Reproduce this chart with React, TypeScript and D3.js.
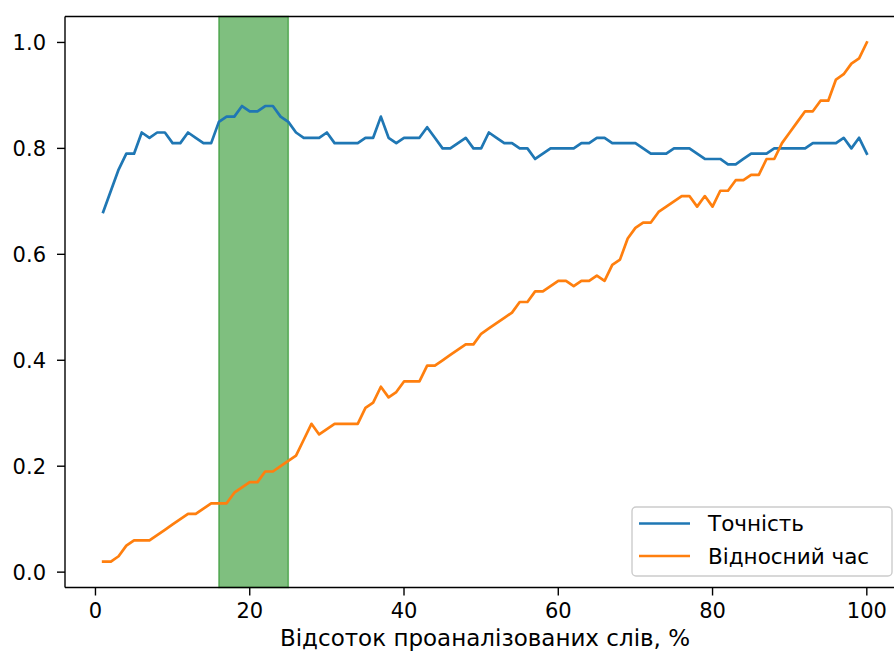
import React from 'react';
import * as d3 from 'd3';

const PERCENTS = d3.range(1, 101);

const ACCURACY = [
  0.68, 0.72, 0.76, 0.79, 0.79, 0.83, 0.82, 0.83, 0.83, 0.81,
  0.81, 0.83, 0.82, 0.81, 0.81, 0.85, 0.86, 0.86, 0.88, 0.87,
  0.87, 0.88, 0.88, 0.86, 0.85, 0.83, 0.82, 0.82, 0.82, 0.83,
  0.81, 0.81, 0.81, 0.81, 0.82, 0.82, 0.86, 0.82, 0.81, 0.82,
  0.82, 0.82, 0.84, 0.82, 0.80, 0.80, 0.81, 0.82, 0.80, 0.80,
  0.83, 0.82, 0.81, 0.81, 0.80, 0.80, 0.78, 0.79, 0.80, 0.80,
  0.80, 0.80, 0.81, 0.81, 0.82, 0.82, 0.81, 0.81, 0.81, 0.81,
  0.80, 0.79, 0.79, 0.79, 0.80, 0.80, 0.80, 0.79, 0.78, 0.78,
  0.78, 0.77, 0.77, 0.78, 0.79, 0.79, 0.79, 0.80, 0.80, 0.80,
  0.80, 0.80, 0.81, 0.81, 0.81, 0.81, 0.82, 0.80, 0.82, 0.79,
];

const REL_TIME = [
  0.02, 0.02, 0.03, 0.05, 0.06, 0.06, 0.06, 0.07, 0.08, 0.09,
  0.10, 0.11, 0.11, 0.12, 0.13, 0.13, 0.13, 0.15, 0.16, 0.17,
  0.17, 0.19, 0.19, 0.20, 0.21, 0.22, 0.25, 0.28, 0.26, 0.27,
  0.28, 0.28, 0.28, 0.28, 0.31, 0.32, 0.35, 0.33, 0.34, 0.36,
  0.36, 0.36, 0.39, 0.39, 0.40, 0.41, 0.42, 0.43, 0.43, 0.45,
  0.46, 0.47, 0.48, 0.49, 0.51, 0.51, 0.53, 0.53, 0.54, 0.55,
  0.55, 0.54, 0.55, 0.55, 0.56, 0.55, 0.58, 0.59, 0.63, 0.65,
  0.66, 0.66, 0.68, 0.69, 0.70, 0.71, 0.71, 0.69, 0.71, 0.69,
  0.72, 0.72, 0.74, 0.74, 0.75, 0.75, 0.78, 0.78, 0.81, 0.83,
  0.85, 0.87, 0.87, 0.89, 0.89, 0.93, 0.94, 0.96, 0.97, 1.00,
];

const BAND = [16, 25];
const X_TICKS = [0, 20, 40, 60, 80, 100];
const Y_TICKS = [0, 0.2, 0.4, 0.6, 0.8, 1.0];

const SERIES = [
  { name: 'Точність', values: ACCURACY, color: '#1f77b4' },
  { name: 'Відносний час', values: REL_TIME, color: '#ff7f0e' },
];

const X_LABEL = 'Відсоток проаналізованих слів, %';

const WIDTH = 894;
const HEIGHT = 652;
const FONT = 'DejaVu Sans, sans-serif';

export default function App() {
  // axes box (right spine falls off the canvas, like the original crop)
  const left = 65, right = 905, top = 16.5, bottom = 587.5;

  const x = d3.scaleLinear().domain([-3.95, 104.95]).range([left, right]);
  const y = d3.scaleLinear().domain([-0.029, 1.049]).range([bottom, top]);

  const line = d3.line<number>()
    .x((_, i) => x(PERCENTS[i]))
    .y((d) => y(d));

  const tickLen = 8;
  const tickFs = 21;

  return (
    <>
      <style>{'body{margin:0}'}</style>
      <svg width={WIDTH} height={HEIGHT} style={{ display: 'block', background: '#fff' }}>
        {/* highlighted band */}
        <rect
          x={x(BAND[0])}
          y={top}
          width={x(BAND[1]) - x(BAND[0])}
          height={bottom - top}
          fill="#008000"
          fillOpacity={0.5}
          stroke="#008000"
          strokeOpacity={0.5}
          strokeWidth={1.5}
        />

        {SERIES.map((s) => (
          <path
            key={s.name}
            d={line(s.values) || ''}
            fill="none"
            stroke={s.color}
            strokeWidth={2.7}
            strokeLinejoin="round"
            strokeLinecap="square"
          />
        ))}

        {/* spines */}
        <g stroke="#000" strokeWidth={1.4} fill="none">
          <line x1={left} x2={left} y1={top} y2={bottom} />
          <line x1={left} x2={right} y1={bottom} y2={bottom} />
          <line x1={left} x2={right} y1={top} y2={top} />
          <line x1={right} x2={right} y1={top} y2={bottom} />
        </g>

        {/* x axis */}
        {X_TICKS.map((t) => (
          <g key={t} transform={`translate(${x(t)},${bottom})`}>
            <line y2={tickLen} stroke="#000" strokeWidth={1.4} />
            <text y={30.5} textAnchor="middle" fontFamily={FONT} fontSize={tickFs} fill="#000">
              {t}
            </text>
          </g>
        ))}
        <text x={(left + right) / 2} y={645.5} textAnchor="middle" fontFamily={FONT} fontSize={23} fill="#000">
          {X_LABEL}
        </text>

        {/* y axis */}
        {Y_TICKS.map((t) => (
          <g key={t} transform={`translate(${left},${y(t)})`}>
            <line x2={-tickLen} stroke="#000" strokeWidth={1.4} />
            <text x={-tickLen - 11} dy="0.36em" textAnchor="end" fontFamily={FONT} fontSize={tickFs} fill="#000">
              {d3.format('.1f')(t)}
            </text>
          </g>
        ))}

        {/* legend */}
        <g transform="translate(632,507)">
          <rect
            width={260}
            height={69}
            rx={4}
            fill="#fff"
            fillOpacity={0.8}
            stroke="#cccccc"
            strokeWidth={1.4}
          />
          {SERIES.map((s, i) => (
            <g key={s.name} transform={`translate(0,${16.5 + i * 32.5})`}>
              <line x1={7} x2={58} stroke={s.color} strokeWidth={2.7} />
              <text x={76} dy="0.36em" fontFamily={FONT} fontSize={21.5} fill="#000">
                {s.name}
              </text>
            </g>
          ))}
        </g>
      </svg>
    </>
  );
}
